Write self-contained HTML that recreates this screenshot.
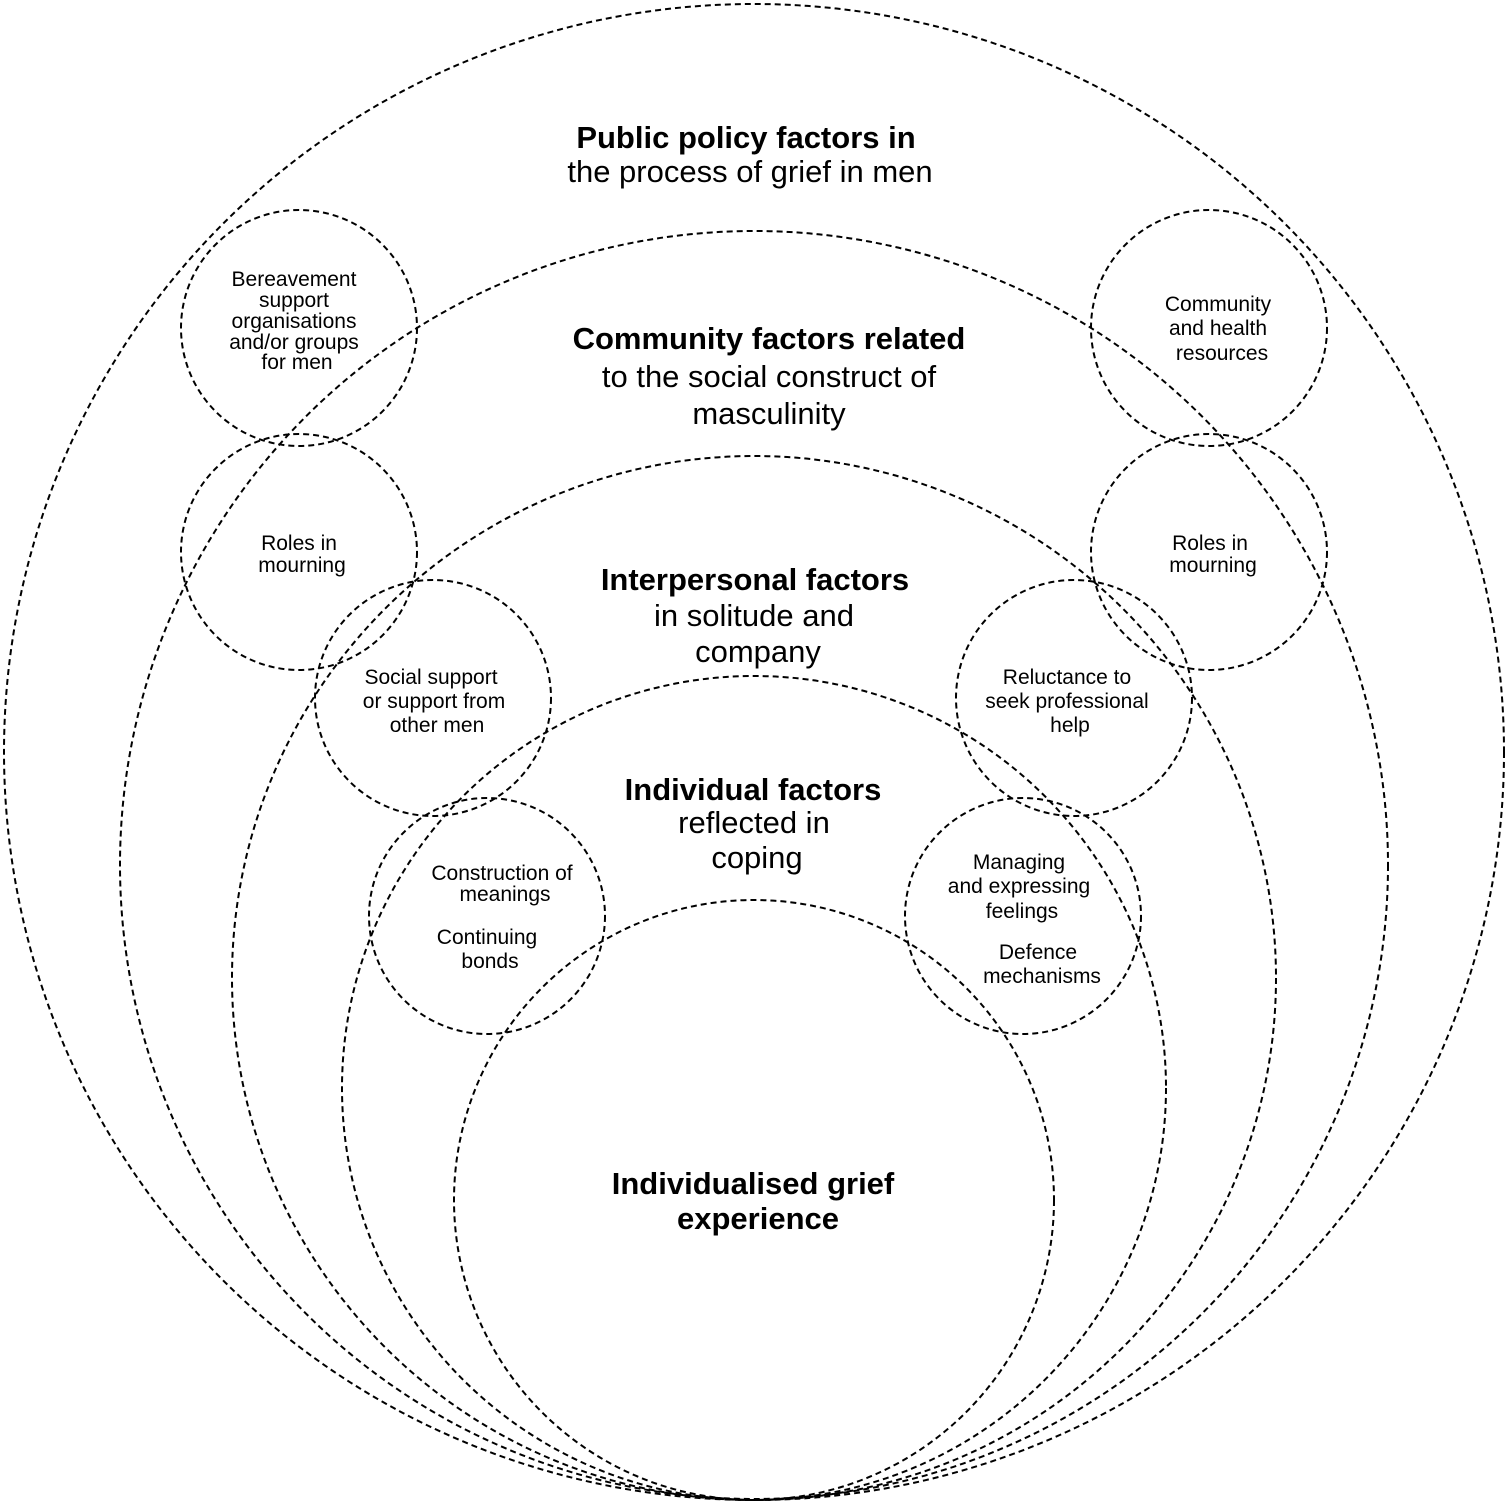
<!DOCTYPE html>
<html><head><meta charset="utf-8"><style>
html,body{margin:0;padding:0;background:#fff;}
svg{display:block;}
text{font-family:"Liberation Sans",Arial,sans-serif;fill:#000;}
.b{font-weight:bold;font-size:31px;}
.n{font-size:31px;}
.s{font-size:21px;}
</style></head><body>
<svg width="1508" height="1506" viewBox="0 0 1508 1506" xmlns="http://www.w3.org/2000/svg">
<g fill="none" stroke="#000" stroke-width="2" stroke-dasharray="6,4">
<ellipse cx="754" cy="752" rx="750" ry="748"/>
<circle cx="754" cy="865" r="634"/>
<circle cx="754" cy="978" r="522"/>
<circle cx="754" cy="1088" r="412"/>
<circle cx="754" cy="1200" r="300"/>
<circle cx="299" cy="328" r="118"/>
<circle cx="299" cy="552" r="118"/>
<circle cx="433" cy="698" r="118"/>
<circle cx="487" cy="916" r="118"/>
<circle cx="1209" cy="328" r="118"/>
<circle cx="1209" cy="552" r="118"/>
<circle cx="1074" cy="698" r="118"/>
<circle cx="1023" cy="916" r="118"/>
</g>
<g text-anchor="middle">
<text class="b" x="746" y="148">Public policy factors in</text>
<text class="n" x="750" y="182">the process of grief in men</text>
<text class="b" x="769" y="349">Community factors related</text>
<text class="n" x="769" y="387">to the social construct of</text>
<text class="n" x="769" y="424">masculinity</text>
<text class="b" x="755" y="590">Interpersonal factors</text>
<text class="n" x="754" y="626">in solitude and</text>
<text class="n" x="758" y="662">company</text>
<text class="b" x="753" y="800">Individual factors</text>
<text class="n" x="754" y="833">reflected in</text>
<text class="n" x="757" y="868">coping</text>
<text class="b" x="753" y="1194">Individualised grief</text>
<text class="b" x="758" y="1229">experience</text>
<text class="s" x="294" y="286">Bereavement</text>
<text class="s" x="294" y="307">support</text>
<text class="s" x="294" y="328">organisations</text>
<text class="s" x="294" y="349">and/or groups</text>
<text class="s" x="297" y="369">for men</text>
<text class="s" x="299" y="550">Roles in</text>
<text class="s" x="302" y="572">mourning</text>
<text class="s" x="431" y="684">Social support</text>
<text class="s" x="434" y="708">or support from</text>
<text class="s" x="437" y="732">other men</text>
<text class="s" x="502" y="880">Construction of</text>
<text class="s" x="505" y="901">meanings</text>
<text class="s" x="487" y="944">Continuing</text>
<text class="s" x="490" y="968">bonds</text>
<text class="s" x="1218" y="311">Community</text>
<text class="s" x="1218" y="335">and health</text>
<text class="s" x="1222" y="360">resources</text>
<text class="s" x="1210" y="550">Roles in</text>
<text class="s" x="1213" y="572">mourning</text>
<text class="s" x="1067" y="684">Reluctance to</text>
<text class="s" x="1067" y="708">seek professional</text>
<text class="s" x="1070" y="732">help</text>
<text class="s" x="1019" y="869">Managing</text>
<text class="s" x="1019" y="893">and expressing</text>
<text class="s" x="1022" y="918">feelings</text>
<text class="s" x="1038" y="959">Defence</text>
<text class="s" x="1042" y="983">mechanisms</text>
</g>
</svg>
</body></html>
